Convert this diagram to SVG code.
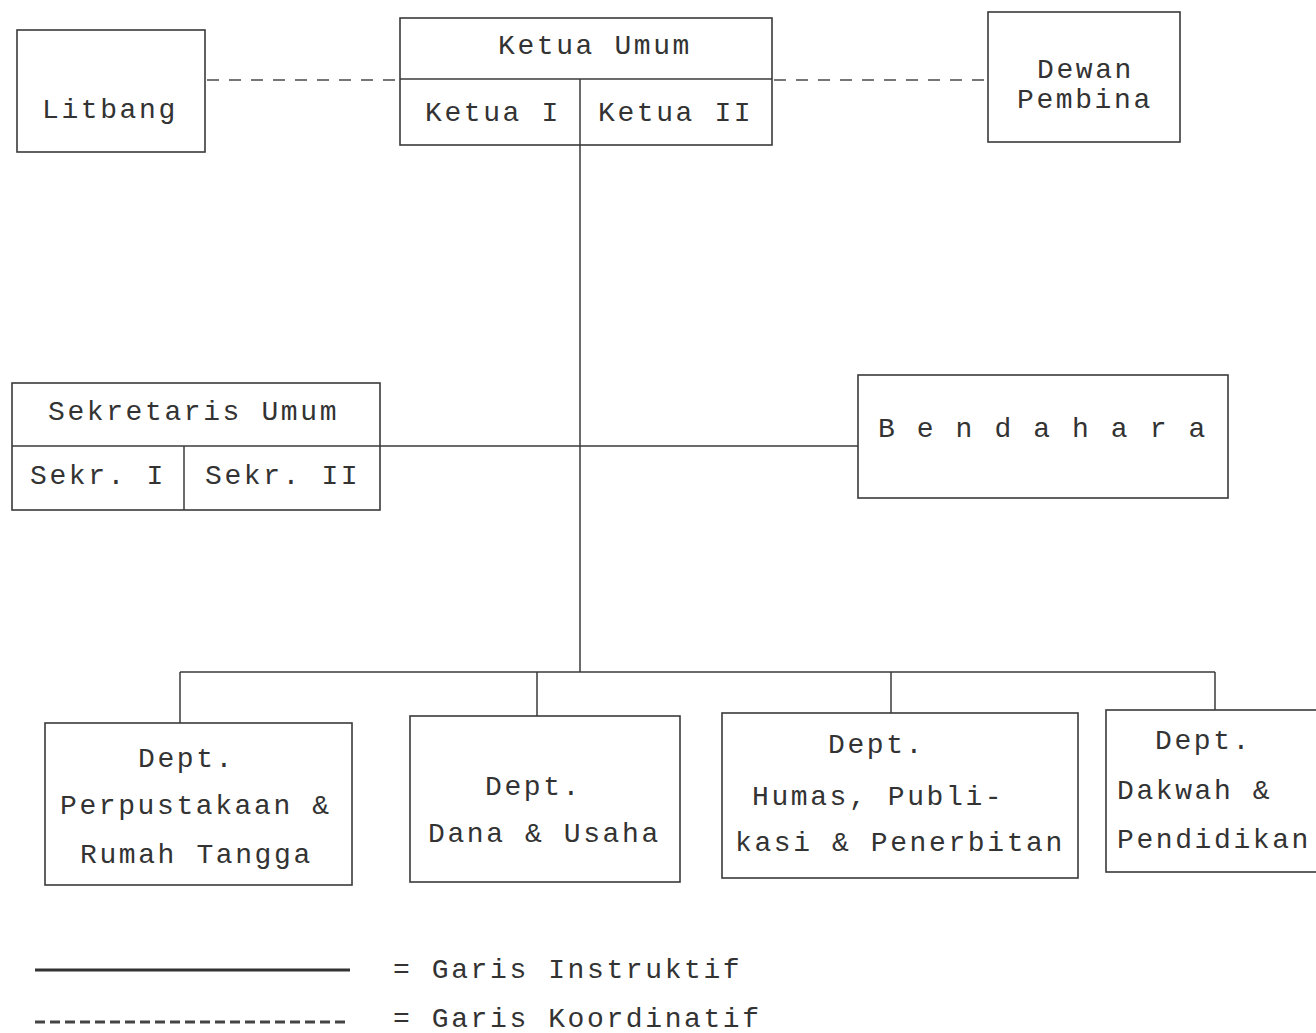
<svg xmlns="http://www.w3.org/2000/svg" width="1316" height="1033" viewBox="0 0 1316 1033">
<style>
  .box { fill: none; stroke: #3a3a3a; stroke-width: 1.6; }
  .ln { fill: none; stroke: #3a3a3a; stroke-width: 1.5; }
  .dash { fill: none; stroke: #4a4a4a; stroke-width: 1.5; stroke-dasharray: 12 10; }
  text { font-family: "Liberation Mono", "Courier New", monospace; font-size: 28px; letter-spacing: 2.6px; fill: #333; }
</style>
<rect width="1316" height="1033" fill="#ffffff"/>
<g id="connectors">
  <line class="dash" x1="207" y1="80" x2="400" y2="80"/>
  <line class="dash" x1="774" y1="80" x2="988" y2="80"/>
  <line class="ln" x1="580" y1="145" x2="580" y2="672"/>
  <line class="ln" x1="380" y1="446" x2="858" y2="446"/>
  <line class="ln" x1="180" y1="672" x2="1215" y2="672"/>
  <line class="ln" x1="180" y1="672" x2="180" y2="723"/>
  <line class="ln" x1="537" y1="672" x2="537" y2="716"/>
  <line class="ln" x1="891" y1="672" x2="891" y2="713"/>
  <line class="ln" x1="1215" y1="672" x2="1215" y2="710"/>
</g>
<g id="litbang">
  <rect class="box" x="17" y="30" width="188" height="122"/>
  <text x="42" y="118">Litbang</text>
</g>
<g id="ketua">
  <rect class="box" x="400" y="18" width="372" height="127"/>
  <line class="ln" x1="400" y1="79" x2="772" y2="79"/>
  <line class="ln" x1="580" y1="79" x2="580" y2="145"/>
  <text x="498" y="54">Ketua Umum</text>
  <text x="425" y="121">Ketua I</text>
  <text x="598" y="121">Ketua II</text>
</g>
<g id="dewan">
  <rect class="box" x="988" y="12" width="192" height="130"/>
  <text x="1037" y="78">Dewan</text>
  <text x="1017" y="108">Pembina</text>
</g>
<g id="sekretaris">
  <rect class="box" x="12" y="383" width="368" height="127"/>
  <line class="ln" x1="12" y1="446" x2="380" y2="446"/>
  <line class="ln" x1="184" y1="446" x2="184" y2="510"/>
  <text x="48" y="420">Sekretaris Umum</text>
  <text x="30" y="484">Sekr. I</text>
  <text x="205" y="484">Sekr. II</text>
</g>
<g id="bendahara">
  <rect class="box" x="858" y="375" width="370" height="123"/>
  <text x="878" y="437">B e n d a h a r a</text>
</g>
<g id="dept1">
  <rect class="box" x="45" y="723" width="307" height="162"/>
  <text x="138" y="767">Dept.</text>
  <text x="60" y="814">Perpustakaan &amp;</text>
  <text x="80" y="863">Rumah Tangga</text>
</g>
<g id="dept2">
  <rect class="box" x="410" y="716" width="270" height="166"/>
  <text x="485" y="795">Dept.</text>
  <text x="428" y="842">Dana &amp; Usaha</text>
</g>
<g id="dept3">
  <rect class="box" x="722" y="713" width="356" height="165"/>
  <text x="828" y="753">Dept.</text>
  <text x="752" y="805">Humas, Publi-</text>
  <text x="735" y="851">kasi &amp; Penerbitan</text>
</g>
<g id="dept4">
  <rect class="box" x="1106" y="710" width="216" height="162"/>
  <text x="1155" y="749">Dept.</text>
  <text x="1117" y="799">Dakwah &amp;</text>
  <text x="1117" y="848">Pendidikan</text>
</g>
<g id="legend">
  <line x1="35" y1="970" x2="350" y2="970" stroke="#333" stroke-width="3"/>
  <line x1="35" y1="1022" x2="350" y2="1022" stroke="#444" stroke-width="3" stroke-dasharray="10 5"/>
  <text x="393" y="978">= Garis Instruktif</text>
  <text x="393" y="1027">= Garis Koordinatif</text>
</g>
</svg>
